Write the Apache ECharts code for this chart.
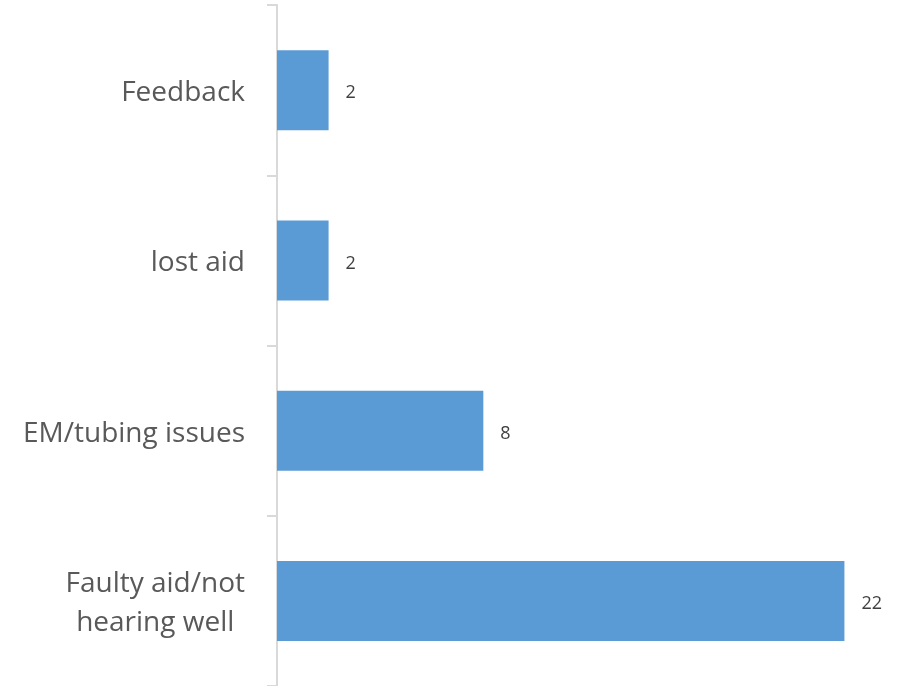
<!DOCTYPE html>
<html>
<head>
<meta charset="utf-8">
<script src="https://cdn.jsdelivr.net/npm/echarts@6/dist/echarts.min.js"></script>
<style>html,body{margin:0;padding:0;background:#fff}#c{width:912px;height:686px}</style>
</head>
<body>
<div id="c"></div>
<script>
var categories = ['Feedback', 'lost aid', 'EM/tubing issues', 'Faulty aid/not\nhearing well'];
var values = [2, 2, 8, 22];

var chart = echarts.init(document.getElementById('c'), null, {renderer: 'canvas'});
chart.setOption({
  animation: false,
  grid: {left: 277, right: 16, top: 5, bottom: -3, containLabel: false},
  xAxis: {
    type: 'value', min: 0, max: 24, show: false
  },
  yAxis: {
    type: 'category', data: categories, inverse: true, offset: 2,
    axisLine: {show: true, lineStyle: {color: '#d9d9d9', width: 2}},
    axisTick: {show: true, length: 10, lineStyle: {color: '#d9d9d9', width: 2}},
    axisLabel: {
      margin: 30, color: '#595959', fontFamily: 'Open Sans', fontSize: 28,
      lineHeight: 39, padding: [6, 0, 0, 0],
      formatter: function (v) {
        return v.split('\n').map(function (s) { return '{a|' + s + '}'; }).join('\n');
      },
      rich: {a: {fontFamily: 'Open Sans', fontSize: 28, color: '#595959', lineHeight: 39, align: 'center'}}
    },
    splitLine: {show: false}
  },
  series: [{
    type: 'bar', data: values, barWidth: 80,
    itemStyle: {color: '#5b9bd5'},
    label: {show: true, position: 'right', distance: 17, offset: [0, 3], color: '#404040', fontFamily: 'Open Sans', fontSize: 18}
  }]
});
</script>
</body>
</html>
